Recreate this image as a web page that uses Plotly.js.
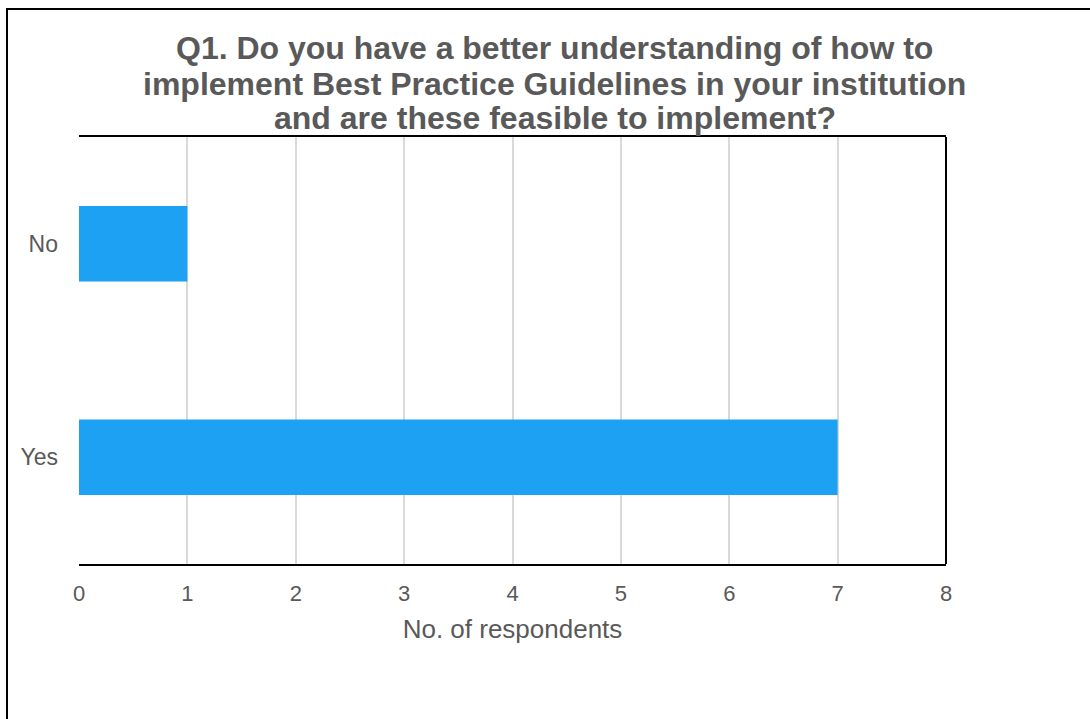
<!DOCTYPE html>
<html>
<head>
<meta charset="utf-8">
<script src="https://cdn.plot.ly/plotly-3.0.1.min.js"></script>
<style>
  html, body { margin: 0; padding: 0; background: #ffffff; overflow: hidden; width: 1090px; height: 719px; }
  #frame { position: absolute; left: 6px; top: 8px; width: 2000px; height: 2000px; border: 2px solid #000; box-sizing: border-box; pointer-events: none; }
  #chart { position: absolute; left: 0; top: 0; width: 1090px; height: 719px; }
</style>
</head>
<body>
<div id="frame"></div>
<div id="chart"></div>
<script>
const categories = ["Yes", "No"];
const respondents = [7, 1];
const xTickValues = [0, 1, 2, 3, 4, 5, 6, 7, 8];
const titleLines = [
  "Q1. Do you have a better understanding of how to",
  "implement Best Practice Guidelines in your institution",
  "and are these feasible to implement?"
];
const xAxisTitle = "No. of respondents";

const FONT = "Arial, 'Liberation Sans', sans-serif";
const GREY = "#595959";

const trace = {
  type: "bar",
  orientation: "h",
  y: categories,
  x: respondents,
  marker: { color: "#1DA1F2", line: { width: 0 } },
  hoverinfo: "skip"
};

const titleY = [1.2075, 1.1231, 1.0434];
const annotations = titleLines.map((t, i) => ({
  text: "<b>" + t + "</b>",
  xref: "paper", yref: "paper",
  x: 0.549, y: titleY[i],
  xanchor: "center", yanchor: "middle",
  showarrow: false,
  font: { family: FONT, size: 32, color: GREY }
}));

const layout = {
  width: 1090, height: 719,
  margin: { l: 79, r: 144, t: 137, b: 155, pad: 0 },
  paper_bgcolor: "rgba(0,0,0,0)",
  plot_bgcolor: "#ffffff",
  showlegend: false,
  bargap: 0.646,
  xaxis: {
    range: [0, 8],
    tickvals: xTickValues,
    ticktext: xTickValues.map(String),
    showgrid: true, gridcolor: "#d9d9d9", gridwidth: 2,
    zeroline: false,
    showline: true, linecolor: "#000", linewidth: 2, mirror: true,
    ticks: "", ticklabelstandoff: 9,
    tickfont: { family: FONT, size: 22, color: GREY },
    title: { text: xAxisTitle, font: { family: FONT, size: 26, color: GREY }, standoff: 14 },
    fixedrange: true
  },
  yaxis: {
    type: "category",
    showgrid: false, zeroline: false, showline: false,
    ticks: "", ticklabelstandoff: 20,
    tickfont: { family: FONT, size: 23, color: GREY },
    fixedrange: true
  },
  shapes: [
    { type: "line", xref: "paper", yref: "paper", x0: 1, x1: 1, y0: 0, y1: 1, line: { color: "#000", width: 2 } }
  ],
  annotations: annotations
};

Plotly.newPlot("chart", [trace], layout, { displayModeBar: false, staticPlot: true });
</script>
</body>
</html>
